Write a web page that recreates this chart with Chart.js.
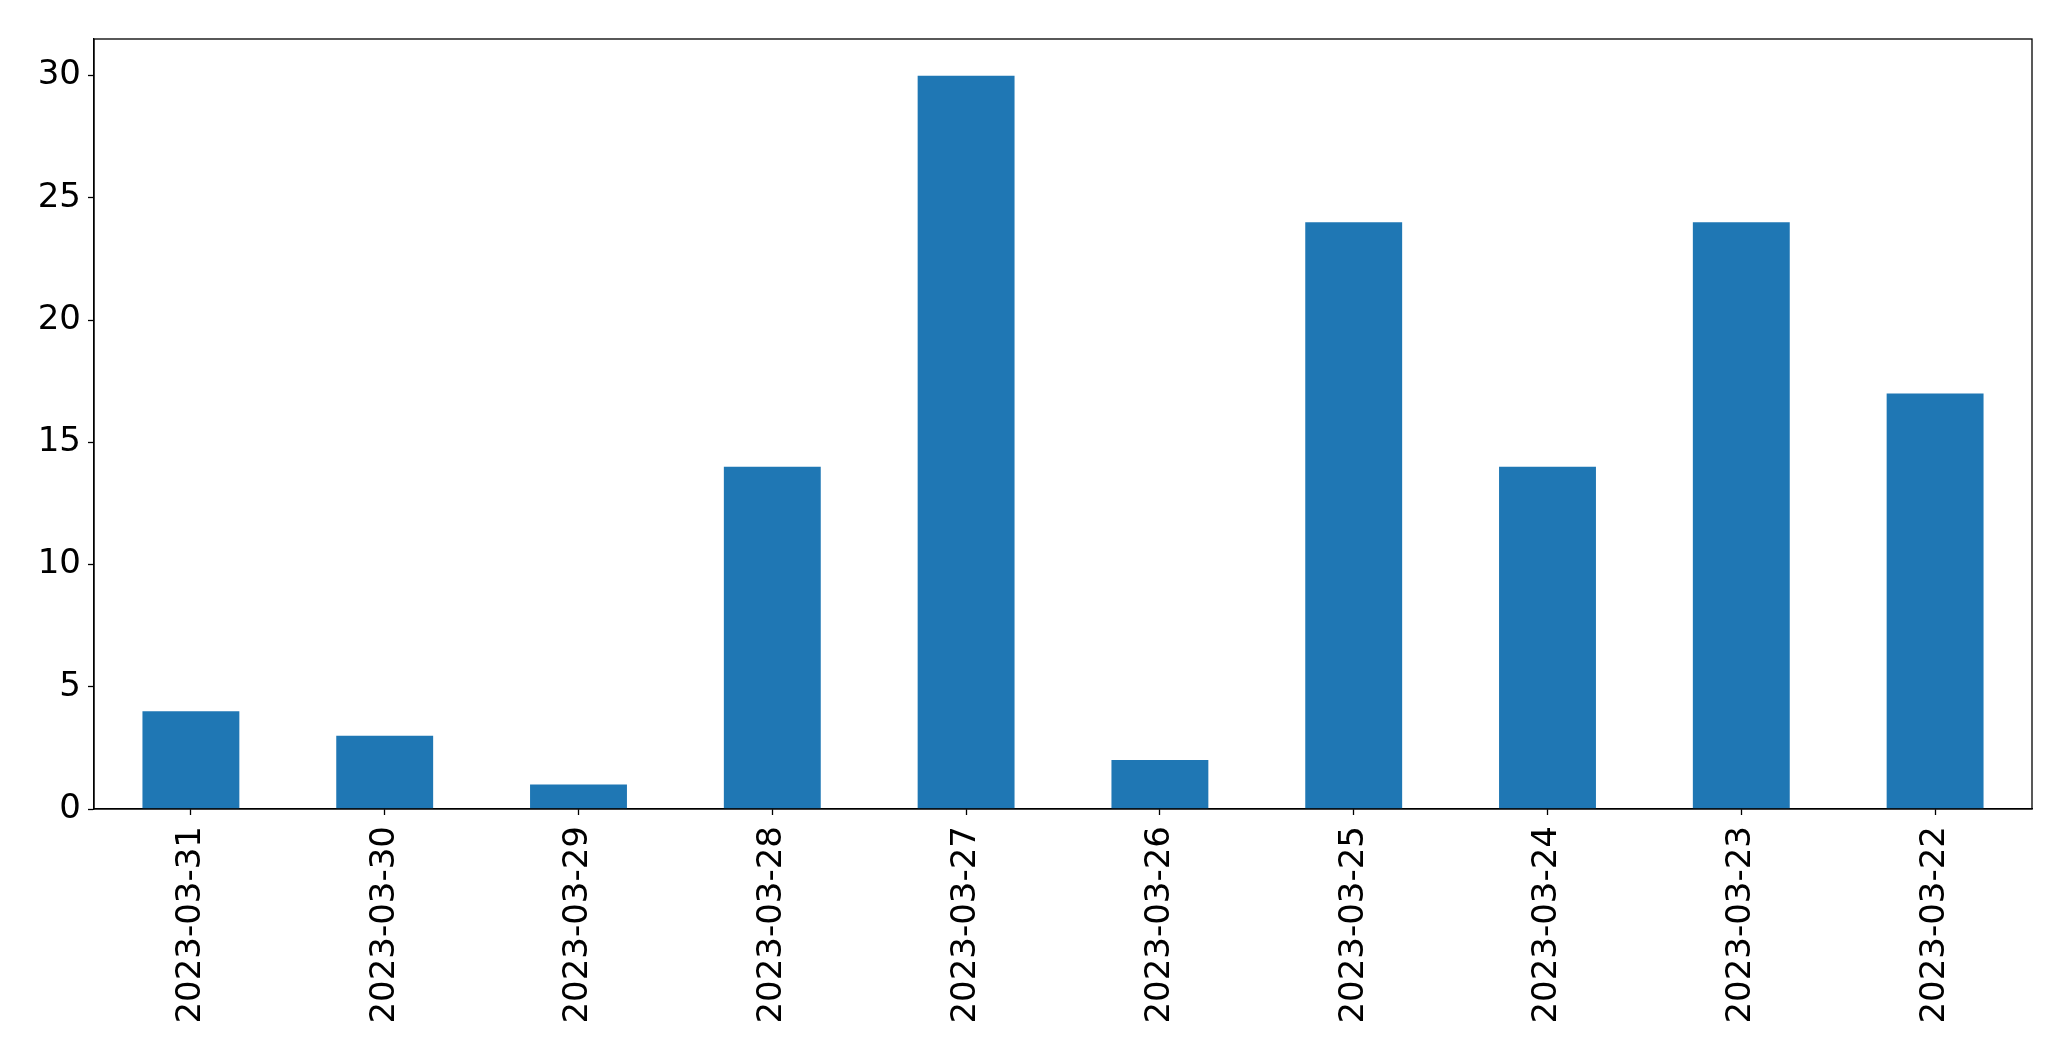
<!DOCTYPE html>
<html>
<head>
<meta charset="utf-8">
<script src="https://cdn.jsdelivr.net/npm/chart.js@4.4.0/dist/chart.umd.min.js"></script>
<style>
html,body{margin:0;padding:0;background:#fff;}
#wrap{width:2071px;height:1061px;position:relative;}
</style>
</head>
<body>
<div id="wrap"><canvas id="c" width="2071" height="1061"></canvas></div>
<script>
const categories = ["2023-03-31","2023-03-30","2023-03-29","2023-03-28","2023-03-27","2023-03-26","2023-03-25","2023-03-24","2023-03-23","2023-03-22"];
const counts = [4,3,1,14,30,2,24,14,24,17];
const yTickStep = 5;
const yMax = 31.5;

const frame = {
  id:'frame',
  afterDraw(chart){
    const {ctx, chartArea:a} = chart;
    ctx.save();
    ctx.strokeStyle = '#000';
    ctx.lineWidth = 1.3;
    ctx.strokeRect(a.left, a.top, a.right - a.left, a.bottom - a.top);
    ctx.restore();
  }
};

new Chart(document.getElementById('c'), {
  type:'bar',
  data:{
    labels:categories,
    datasets:[{data:counts, backgroundColor:'#1f77b4', borderWidth:0, categoryPercentage:1.0, barPercentage:0.5}]
  },
  options:{
    responsive:false,
    animation:false,
    devicePixelRatio:1,
    layout:{padding:{top:39, right:39, left:0, bottom:0}},
    plugins:{legend:{display:false}, tooltip:{enabled:false}},
    scales:{
      x:{
        offset:true,
        grid:{display:true, drawOnChartArea:false, drawTicks:true, tickLength:6, tickWidth:1.3, color:'#000', offset:false},
        border:{display:true, color:'#000', width:1.3},
        ticks:{color:'#000', font:{family:'DejaVu Sans', size:34}, minRotation:90, maxRotation:90, padding:11, autoSkip:false},
        afterFit(s){ s.height = 252; }
      },
      y:{
        min:0, max:yMax,
        grid:{display:true, drawOnChartArea:false, drawTicks:true, tickLength:6, tickWidth:1.3, color:'#000'},
        border:{display:true, color:'#000', width:1.3},
        ticks:{stepSize:yTickStep, includeBounds:false, color:'#000', font:{family:'DejaVu Sans', size:34}, padding:7},
        afterFit(s){ s.width = 94; }
      }
    }
  },
  plugins:[frame]
});
</script>
</body>
</html>
